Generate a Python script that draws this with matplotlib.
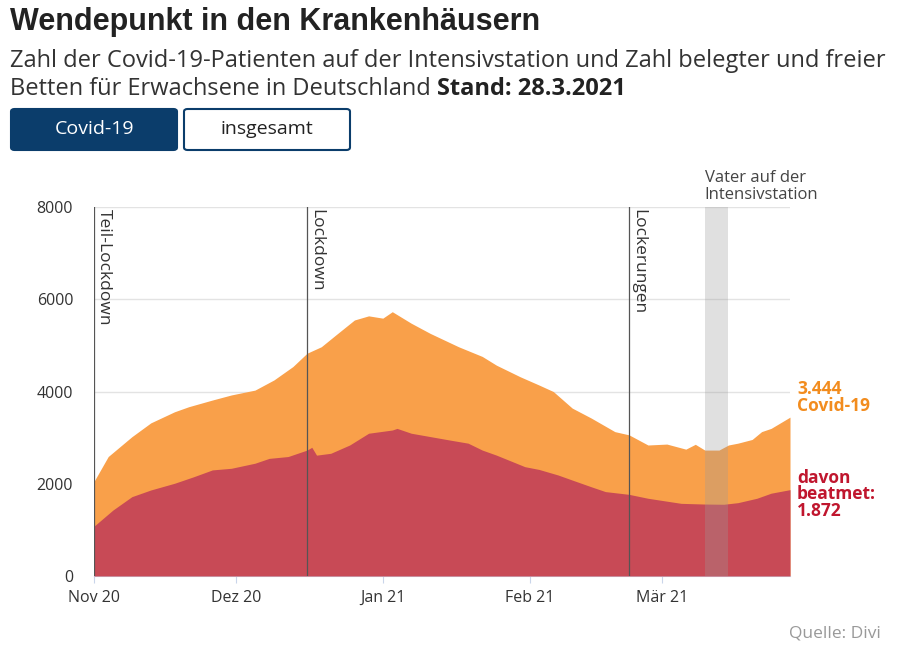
import matplotlib
matplotlib.use("Agg")
import matplotlib.pyplot as plt
from matplotlib.patches import FancyBboxPatch
import pandas as pd

# Covid-19 Patienten auf Intensivstation (gesamt)
covid_dates = ["2020-11-01", "2020-11-04", "2020-11-09", "2020-11-13", "2020-11-18", "2020-11-21",
               "2020-11-26", "2020-11-30", "2020-12-05", "2020-12-09", "2020-12-13", "2020-12-16",
               "2020-12-19", "2020-12-22", "2020-12-26", "2020-12-29", "2021-01-01", "2021-01-03",
               "2021-01-07", "2021-01-11", "2021-01-17", "2021-01-22", "2021-01-25", "2021-01-30",
               "2021-02-03", "2021-02-06", "2021-02-10", "2021-02-14", "2021-02-19", "2021-02-22",
               "2021-02-26", "2021-03-02", "2021-03-06", "2021-03-08", "2021-03-10", "2021-03-13",
               "2021-03-15", "2021-03-17", "2021-03-20", "2021-03-22", "2021-03-24", "2021-03-28"]
covid_vals = [2050, 2590, 3020, 3320, 3560, 3670,
              3815, 3925, 4030, 4250, 4540, 4830,
              4970, 5220, 5550, 5640, 5590, 5730,
              5480, 5260, 4970, 4760, 4570, 4320,
              4140, 4000, 3640, 3425, 3130, 3060,
              2840, 2860, 2750, 2855, 2730, 2730,
              2840, 2880, 2960, 3130, 3200, 3444]

# davon beatmet
beat_dates = ["2020-11-01", "2020-11-05", "2020-11-09", "2020-11-13", "2020-11-18", "2020-11-22",
              "2020-11-26", "2020-11-30", "2020-12-05", "2020-12-08", "2020-12-12", "2020-12-16",
              "2020-12-17", "2020-12-18", "2020-12-21", "2020-12-25", "2020-12-29", "2021-01-03",
              "2021-01-04", "2021-01-07", "2021-01-15", "2021-01-19", "2021-01-22", "2021-01-25",
              "2021-01-31", "2021-02-03", "2021-02-07", "2021-02-10", "2021-02-14", "2021-02-17",
              "2021-02-22", "2021-02-26", "2021-03-05", "2021-03-10", "2021-03-14", "2021-03-17",
              "2021-03-21", "2021-03-24", "2021-03-28"]
beat_vals = [1080, 1430, 1720, 1865, 2010, 2150,
             2300, 2335, 2445, 2550, 2590, 2730,
             2790, 2620, 2660, 2840, 3095, 3165,
             3200, 3095, 2950, 2880, 2730, 2620,
             2370, 2310, 2190, 2080, 1935, 1830,
             1770, 1685, 1575, 1560, 1555, 1590,
             1685, 1795, 1872]

events = ["Teil-Lockdown", "Lockdown", "Lockerungen"]
event_dates = ["2020-11-01", "2020-12-16", "2021-02-22"]
band_start, band_end = "2021-03-10", "2021-03-15"

month_ticks = ["2020-11-01", "2020-12-01", "2021-01-01", "2021-02-01", "2021-03-01"]
month_labels = ["Nov 20", "Dez 20", "Jan 21", "Feb 21", "Mär 21"]
y_ticks = [0, 2000, 4000, 6000, 8000]

ORANGE = "#F9A04A"
RED = "#C84A56"
NAVY = "#0B3D6B"
body = ["Open Sans", "DejaVu Sans"]

cd = pd.to_datetime(covid_dates)
bd = pd.to_datetime(beat_dates)

fig = plt.figure(figsize=(9, 6.5), dpi=100)
ax = fig.add_axes([94/900, 1-576/650, (790-94)/900, (576-207)/650])

ax.fill_between(cd, covid_vals, 0, color=ORANGE, lw=0, zorder=2)
ax.fill_between(bd, beat_vals, 0, color=RED, lw=0, zorder=3)

for name, d in zip(events, event_dates):
    d = pd.Timestamp(d)
    ax.axvline(d, color="#555555", lw=0.9, zorder=4)
    ax.text(d + pd.Timedelta(hours=8), 7960, name, rotation=-90, va="top", ha="left",
            fontsize=12.5, color="#333333", family=body, zorder=5)

ax.axvspan(pd.Timestamp(band_start), pd.Timestamp(band_end), ymax=1.0,
           color="#9a9a9a", alpha=0.3, lw=0, zorder=6)

ax.set_xlim(pd.Timestamp("2020-11-01"), pd.Timestamp("2021-03-28"))
ax.set_ylim(0, 8000)
ax.set_yticks(y_ticks)
ax.set_yticklabels([str(v) for v in y_ticks], family=body, fontsize=11.5, color="#333333")
ax.set_xticks(pd.to_datetime(month_ticks))
ax.set_xticklabels(month_labels, family=body, fontsize=11.5, color="#333333")
ax.grid(axis="y", color="#e3e3e3", lw=1, zorder=0)
ax.set_axisbelow(True)
for s in ["top", "right", "left"]:
    ax.spines[s].set_visible(False)
ax.spines["bottom"].set_color("#c9d5ea")
ax.tick_params(axis="y", length=0, pad=15)
ax.tick_params(axis="x", length=5, color="#c9d5ea", pad=5)

# labels on the right
ax.text(1.01, 4240, "3.444\nCovid-19", transform=ax.get_yaxis_transform(),
        color="#F28C1E", fontsize=12.5, fontweight="bold", family=body, va="top",
        linespacing=0.9)
ax.text(1.01, 2330, "davon\nbeatmet:\n1.872", transform=ax.get_yaxis_transform(),
        color="#C0162E", fontsize=12.5, fontweight="bold", family=body, va="top",
        linespacing=0.9)
ax.text(pd.Timestamp(band_start), 8080, "Vater auf der\nIntensivstation", ha="left", va="bottom",
        fontsize=12, color="#444444", family=body, linespacing=1.15, clip_on=False)

# header
fig.text(10/900, 1-30/650, "Wendepunkt in den Krankenhäusern", family=["Liberation Sans", "DejaVu Sans"],
         fontweight="bold", fontsize=22, color="#222222", va="baseline")
fig.text(10/900, 1-67/650, "Zahl der Covid-19-Patienten auf der Intensivstation und Zahl belegter und freier",
         family=body, fontsize=17, color="#333333", va="baseline")
t2 = fig.text(10/900, 1-95/650, "Betten für Erwachsene in Deutschland ", family=body, fontsize=17,
              color="#333333", va="baseline")
fig.canvas.draw()
bb = t2.get_window_extent()
fig.text(bb.x1/900, 1-95/650, "Stand: 28.3.2021", family=body, fontsize=17, fontweight="bold",
         color="#222222", va="baseline")

# buttons
b1 = FancyBboxPatch((11/900, 1-150/650), 166/900, 41/650, boxstyle="round,pad=0,rounding_size=0.004",
                    transform=fig.transFigure, facecolor=NAVY, edgecolor=NAVY, lw=1.5)
b2 = FancyBboxPatch((184/900, 1-150/650), 166/900, 41/650, boxstyle="round,pad=0,rounding_size=0.004",
                    transform=fig.transFigure, facecolor="white", edgecolor=NAVY, lw=1.5)
fig.patches.extend([b1, b2])
fig.text(94/900, 1-129.5/650, "Covid-19", ha="center", va="center", color="white", fontsize=14,
         family=body)
fig.text(267/900, 1-129.5/650, "insgesamt", ha="center", va="center", color="#222222", fontsize=14,
         family=body)

fig.text(881/900, 1-633/650, "Quelle: Divi", ha="right", va="center", color="#999999", fontsize=12.5,
         family=body)

fig.savefig("out.png", dpi=100)
